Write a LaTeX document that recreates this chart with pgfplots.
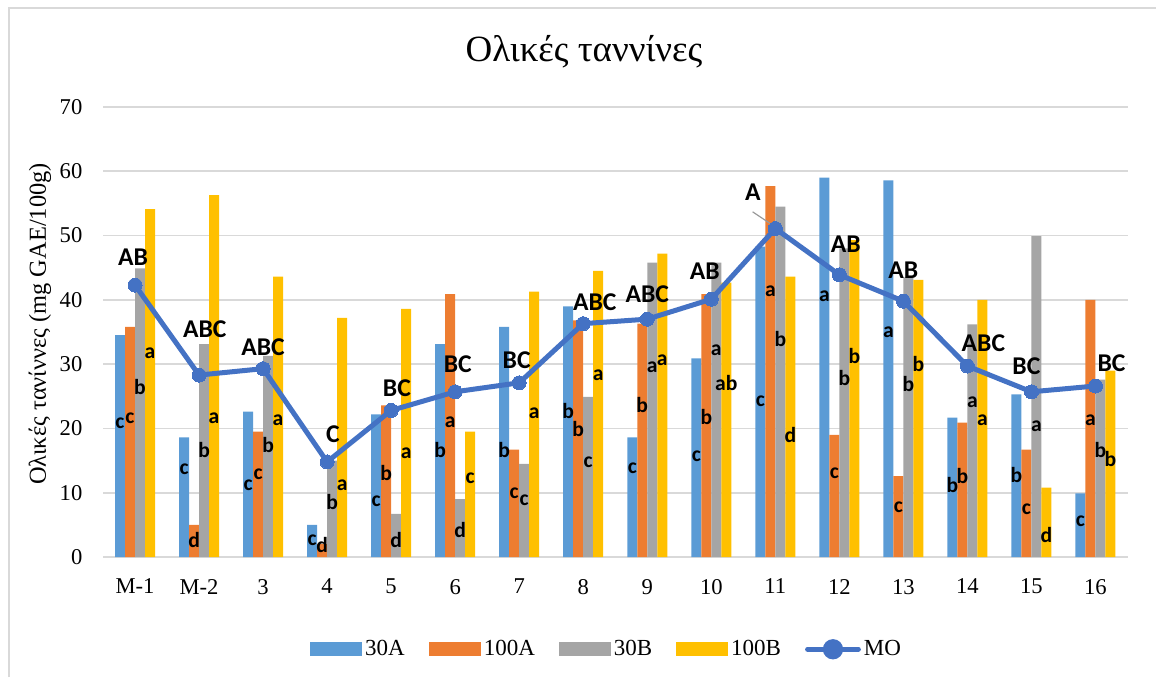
\documentclass[border=0pt]{standalone}
\usepackage{fontspec}
\setmainfont{Liberation Serif}
\newfontfamily\lblfont{Carlito}
\usepackage{pgfplots}
\usepackage{pgfplotstable}
\pgfplotsset{compat=1.18}

\definecolor{cA}{HTML}{5B9BD5}
\definecolor{cB}{HTML}{ED7D31}
\definecolor{cC}{HTML}{A5A5A5}
\definecolor{cD}{HTML}{FFC000}
\definecolor{cMO}{HTML}{4472C4}
\definecolor{cGrid}{HTML}{D9D9D9}

\pgfplotstableread{
x a30 a100 b30 b100 mo
0 34.5 35.8 44.9 54.1 42.3
1 18.6 5.0 33.1 56.3 28.3
2 22.6 19.5 31.3 43.6 29.3
3 5.0 2.0 15.0 37.2 14.8
4 22.2 23.6 6.7 38.6 22.8
5 33.1 40.9 9.0 19.5 25.7
6 35.8 16.7 14.5 41.3 27.1
7 39.0 36.8 24.9 44.5 36.3
8 18.6 36.3 45.8 47.2 37.0
9 30.9 40.9 45.8 42.7 40.1
10 48.3 57.7 54.5 43.6 51.1
11 59.0 19.0 48.0 49.3 43.9
12 58.6 12.6 43.5 43.1 39.8
13 21.7 20.9 36.2 40.0 29.7
14 25.3 16.7 49.9 10.8 25.7
15 9.9 40.0 27.6 29.0 26.6
}\data

\pgfplotstableread{
x y t
0 20.8 c
1 13.7 c
2 11.1 c
3 2.6 c
4 8.6 c
5 16.7 b
6 16.6 b
7 22.7 b
8 13.8 c
9 15.6 c
10 24.2 c
11 40.5 a
12 35.0 a
13 11.2 b
14 12.8 b
15 5.5 c
}\labA

\pgfplotstableread{
x y t
0 21.6 c
1 2.6 d
2 12.9 c
3 1.9 d
4 13.0 b
5 21.0 a
6 9.9 c
7 19.9 b
8 23.6 b
9 21.8 b
10 41.3 a
11 13.0 c
12 7.8 c
13 12.6 b
14 7.4 c
15 21.3 a
}\labB

\pgfplotstableread{
x y t
0 26.5 b
1 16.7 b
2 17.4 b
3 8.6 b
4 2.7 d
5 4.2 d
6 8.9 c
7 14.7 c
8 29.5 a
9 32.2 a
10 33.9 b
11 27.8 b
12 26.9 b
13 24.0 a
14 20.3 a
15 16.6 b
}\labC

\pgfplotstableread{
x y t
0 31.7 a
1 21.6 a
2 21.3 a
3 11.2 a
4 16.1 a
5 12.2 c
6 22.3 a
7 28.3 a
8 30.6 a
9 27.0 ab
10 19.0 d
11 31.2 b
12 30.0 b
13 21.3 a
14 3.5 d
15 15.3 b
}\labD

\pgfplotstableread{
x y t
-0.03 46.7 AB
1.09 35.4 ABC
2.0 32.7 ABC
3.09 19.1 C
4.09 26.3 BC
5.04 30.0 BC
5.96 30.6 BC
7.18 39.7 ABC
8.0 40.9 ABC
8.9 44.4 AB
9.65 56.8 A
11.1 48.7 AB
12.0 44.6 AB
13.25 33.3 ABC
13.92 29.7 BC
15.25 30.2 BC
}\labMO

\begin{document}
\begin{tikzpicture}
\useasboundingbox (0,0) rectangle (578pt,338.5pt);
\draw[cGrid, line width=1pt] (4.5pt,0pt) -- (4.5pt,334.5pt) -- (578pt,334.5pt);
\node[font=\fontsize{18.5}{21}\selectfont] at (292pt,312.5pt) {Ολικές ταννίνες};
\node[rotate=90, font=\fontsize{12.2}{14}\selectfont] at (20pt,176.5pt) {Ολικές τανίννες (mg GAE/100g)};
\begin{axis}[
  at={(51.5pt,60pt)}, anchor=south west,
  scale only axis, width=512.25pt, height=225pt,
  xmin=-0.5, xmax=15.5, ymin=0, ymax=70,
  ytick={0,10,...,70},
  xtick={0,...,15},
  xticklabels={M-1,M-2,3,4,5,6,7,8,9,10,11,12,13,14,15,16},
  axis line style={draw=none},
  tick style={draw=none},
  major tick length=0pt,
  ymajorgrids, grid style={draw=cGrid, line width=0.8pt},
  ticklabel style={font=\fontsize{11.3}{13}\selectfont},
  /pgf/number format/assume math mode=true,
  xticklabel style={yshift=-7.5pt},
  yticklabel style={xshift=-6.8pt},
  legend columns=5,
  legend style={at={(0.492,-0.205)}, anchor=center, draw=none, fill=none,
     font=\fontsize{11.5}{13}\selectfont,
     nodes={inner xsep=1.5pt},
     /tikz/every even column/.append style={column sep=10.5pt}},
  clip=false,
]
\addplot[ybar, bar width=5pt, bar shift=-7.5pt, fill=cA, draw=none,
  legend image code/.code={\fill[cA] (0pt,-3.6pt) rectangle (26pt,3.6pt);}] table[x=x,y=a30] \data;
\addplot[ybar, bar width=5pt, bar shift=-2.5pt, fill=cB, draw=none,
  legend image code/.code={\fill[cB] (0pt,-3.6pt) rectangle (26pt,3.6pt);}] table[x=x,y=a100] \data;
\addplot[ybar, bar width=5pt, bar shift=2.5pt, fill=cC, draw=none,
  legend image code/.code={\fill[cC] (0pt,-3.6pt) rectangle (26pt,3.6pt);}] table[x=x,y=b30] \data;
\addplot[ybar, bar width=5pt, bar shift=7.5pt, fill=cD, draw=none,
  legend image code/.code={\fill[cD] (0pt,-3.6pt) rectangle (26pt,3.6pt);}] table[x=x,y=b100] \data;
\addplot[color=cMO, line width=2.5pt, mark=*, mark size=3.5pt,
  mark options={fill=cMO, draw=cMO, line width=0pt},
  legend image code/.code={\draw[cMO, line width=2.5pt, line cap=round] (0.8pt,0pt) -- (26.2pt,0pt); \fill[cMO] (13.5pt,0pt) circle (3.8pt);}]
  table[x=x,y=mo] \data;
\legend{30A,100A,30B,100B,MO}
\addplot[forget plot, black!40, line width=0.6pt] coordinates {(9.645,53.7) (9.99,51.4)};
\addplot[forget plot, draw=none, mark=none, nodes near coords, point meta=explicit symbolic,
  every node near coord/.append style={anchor=center, xshift=-7.5pt, inner sep=0pt, font=\lblfont\bfseries\fontsize{10.8}{12}\selectfont}]
  table[x=x,y=y,meta=t] \labA;
\addplot[forget plot, draw=none, mark=none, nodes near coords, point meta=explicit symbolic,
  every node near coord/.append style={anchor=center, xshift=-2.5pt, inner sep=0pt, font=\lblfont\bfseries\fontsize{10.8}{12}\selectfont}]
  table[x=x,y=y,meta=t] \labB;
\addplot[forget plot, draw=none, mark=none, nodes near coords, point meta=explicit symbolic,
  every node near coord/.append style={anchor=center, xshift=2.5pt, inner sep=0pt, font=\lblfont\bfseries\fontsize{10.8}{12}\selectfont}]
  table[x=x,y=y,meta=t] \labC;
\addplot[forget plot, draw=none, mark=none, nodes near coords, point meta=explicit symbolic,
  every node near coord/.append style={anchor=center, xshift=7.5pt, inner sep=0pt, font=\lblfont\bfseries\fontsize{10.8}{12}\selectfont}]
  table[x=x,y=y,meta=t] \labD;
\addplot[forget plot, draw=none, mark=none, nodes near coords, point meta=explicit symbolic,
  every node near coord/.append style={anchor=center, inner sep=0pt, font=\lblfont\bfseries\fontsize{12.8}{14}\selectfont}]
  table[x=x,y=y,meta=t] \labMO;
\end{axis}
\end{tikzpicture}
\end{document}
